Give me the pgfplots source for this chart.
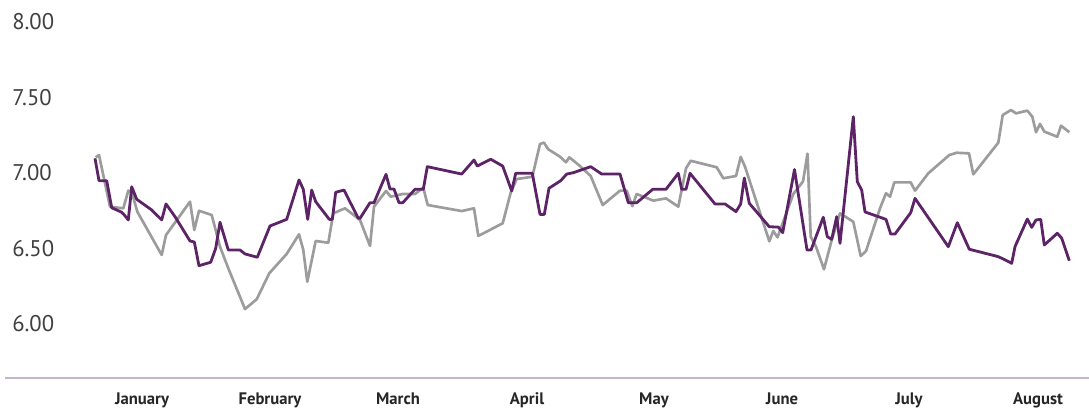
\documentclass[border=0pt]{standalone}
\usepackage{pgfplots}
\pgfplotsset{compat=1.18}
\usepackage{fontspec}
\setmainfont{PT Sans}
\definecolor{purp}{HTML}{5C2366}
\definecolor{gry}{HTML}{9C9C9C}
\definecolor{lav}{HTML}{C6B5CA}
\definecolor{tl}{HTML}{404040}
\begin{document}
\begin{tikzpicture}
\begin{axis}[
  name=ax,
  scale only axis,
  width=813pt, height=283.5pt,
  xmin=5, xmax=1089,
  ymin=5.6424, ymax=8.1457,
  axis lines*=left,
  y axis line style={draw=none},
  x axis line style={draw=lav, line width=1.5pt},
  major tick length=0pt,
  tick style={draw=none},
  xtick={142,270,398,527,654,782,909,1038},
  xticklabels={January,February,March,April,May,June,July,August},
  xticklabel style={anchor=base, yshift=-20pt, font=\fontsize{12.5}{14}\selectfont\bfseries, text=black!85},
  ytick={6,6.5,7,7.5,8},
  yticklabel style={anchor=west, inner sep=0pt, xshift=5.25pt, font=\fontsize{17}{20}\selectfont, text=tl,
    /pgf/number format/fixed, /pgf/number format/fixed zerofill, /pgf/number format/precision=2},
  /pgf/number format/assume math mode=true,
  clip=false,
]
\addplot[gry, line width=2pt, line join=round] table {
x y
95.7 7.104
99 7.119
110 6.777
123.3 6.766
128.3 6.883
131.7 6.876
137.3 6.744
161.7 6.457
166 6.589
190 6.810
194.3 6.623
199 6.750
211.7 6.722
220 6.512
228.3 6.369
245 6.099
256.7 6.164
269.3 6.336
286.7 6.464
299 6.594
303.3 6.490
307.3 6.280
315.7 6.550
328.3 6.538
333.3 6.733
345 6.766
360 6.689
370 6.517
374 6.777
386 6.881
390.7 6.843
402.7 6.861
415 6.861
423.3 6.903
427.7 6.788
461.7 6.748
474 6.766
478.3 6.583
502.7 6.667
510.7 6.870
516.7 6.960
532.3 6.975
540 7.192
544 7.201
548.3 7.157
560 7.108
566 7.071
569.3 7.104
580 7.046
590.7 6.980
602.7 6.788
620 6.883
626.7 6.883
632.3 6.781
636.7 6.861
653.3 6.817
666 6.832
678.3 6.777
686 7.031
690.7 7.081
716.7 7.038
723.3 6.965
736 6.980
740.7 7.106
745 7.042
769.3 6.548
773.3 6.616
777.5 6.574
793.3 6.861
803 6.944
807.5 7.128
810.7 6.578
816 6.512
824 6.362
831.7 6.556
840 6.733
853.3 6.677
860.7 6.450
866 6.483
880 6.766
886 6.866
890 6.843
894.3 6.938
910.7 6.938
915 6.883
928.3 6.998
949.3 7.119
956.7 7.134
969 7.130
973.3 6.991
998.3 7.201
1002.7 7.384
1011 7.417
1016 7.395
1027.3 7.413
1032.3 7.373
1036 7.270
1040 7.325
1044.3 7.274
1057.3 7.240
1061 7.313
1069.3 7.270
};
\addplot[purp, line width=2.1pt, line join=round] table {
x y
95 7.097
99 6.949
106.7 6.949
111.7 6.770
121.7 6.740
124.3 6.722
128.3 6.689
131.7 6.909
136.7 6.826
151.7 6.755
161.7 6.689
166 6.795
175 6.711
190 6.550
194.3 6.543
199 6.386
210.7 6.409
215.7 6.501
220 6.674
228.3 6.490
240 6.490
245 6.464
257.3 6.442
270 6.649
286.7 6.693
299 6.954
303.3 6.892
307.7 6.693
311.7 6.887
315.7 6.810
329.3 6.693
332.3 6.693
335.7 6.872
344 6.887
358.3 6.700
360 6.700
370 6.803
374 6.803
386 6.991
390 6.894
394 6.894
399 6.803
402.7 6.803
415 6.892
423.3 6.892
427.3 7.042
461.7 6.993
474 7.086
477.3 7.046
490.7 7.091
502.7 7.046
511.7 6.881
515.7 6.998
532.3 6.998
540 6.726
544.3 6.726
549 6.899
560.7 6.949
566.7 6.993
573.3 7.002
590.7 7.042
601.7 6.993
620 6.993
628.3 6.803
636.7 6.803
652.7 6.892
666 6.892
678.3 6.998
681.7 6.892
686 6.892
690 6.998
715 6.795
725 6.795
736 6.744
740.7 6.795
744.3 6.967
749.3 6.799
769.3 6.644
778.3 6.642
782.7 6.605
794.5 7.023
807 6.490
811 6.490
823.3 6.707
827.3 6.578
831.7 6.561
836.7 6.711
840 6.534
853.3 7.373
857.3 6.942
861.7 6.887
865 6.742
886 6.693
890.7 6.596
895 6.596
910.7 6.737
915 6.832
948.3 6.512
957.3 6.671
969.3 6.495
998.3 6.446
1004 6.428
1011.7 6.402
1015 6.512
1027.3 6.695
1031.7 6.640
1036 6.689
1040.7 6.693
1044.3 6.523
1057.3 6.601
1061.7 6.568
1069.3 6.419
};
\end{axis}
\pgfresetboundingbox
\path ([xshift=-3.75pt]ax.north west) rectangle ([yshift=-24pt]ax.south east);
\end{tikzpicture}
\end{document}
